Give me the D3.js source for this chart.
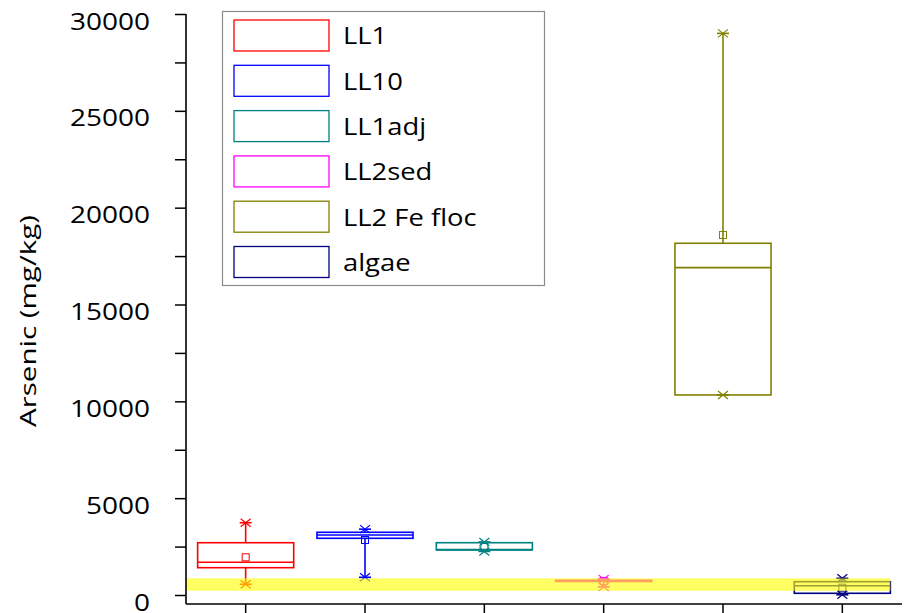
<!DOCTYPE html>
<html>
<head>
<meta charset="utf-8">
<script src="https://cdn.jsdelivr.net/npm/d3@7"></script>
<style>
  html, body { margin: 0; padding: 0; background: #fff; }
  svg { display: block; }
  text { font-family: "Open Sans", "DejaVu Sans", sans-serif; fill: #000; }
</style>
</head>
<body>
<svg id="chart" width="906" height="613"></svg>
<script>
// Sample groups and their colours
const categories = ["LL1", "LL10", "LL1adj", "LL2sed", "LL2 Fe floc", "algae"];
const colors = ["#ff0000", "#0000ff", "#008080", "#ff00ff", "#808000", "#000080"];

// Box statistics, arsenic in mg/kg
const minVals    = [553,  914,  2250, 420,  10328, 10];
const q1Vals     = [1410, 2928, 2324, 700,  10328, 88];
const medianVals = [1689, 3100, 2345, 730,  16903, 480];
const q3Vals     = [2700, 3238, 2700, 760,  18162, 687];
const maxVals    = [3733, 3400, 2740, 820,  29000, 862];
const meanVals   = [1947, 2840, 2480, 720,  18590, 377];

// Highlighted concentration range (mg/kg)
const highlightRange = [220, 860];

// Axis ticks
const yTicks = d3.range(0, 30001, 2500);
const yLabelTicks = [0, 5000, 10000, 15000, 20000, 25000, 30000];

const svg = d3.select("#chart");
const textScale = 1.19;

const x = d3.scaleBand().domain(categories).range([186, 902]).padding(0);
const y = d3.scaleLinear().domain([0, 30000]).range([595, 14]);
const boxW = x.bandwidth() * 0.805;
const color = d3.scaleOrdinal().domain(categories).range(colors);

const data = categories.map((c, i) => ({
  name: c, min: minVals[i], q1: q1Vals[i], median: medianVals[i],
  q3: q3Vals[i], max: maxVals[i], mean: meanVals[i]
}));

// Boxes
const boxes = svg.append("g").attr("class", "boxes");
const g = boxes.selectAll("g.box").data(data).join("g")
  .attr("class", "box")
  .attr("transform", d => `translate(${x(d.name) + x.bandwidth() / 2},0)`)
  .attr("stroke", d => color(d.name))
  .attr("fill", "none")
  .attr("stroke-width", 1.6);

// whiskers
g.filter(d => d.max > d.q3).append("line")
  .attr("x1", 0).attr("x2", 0)
  .attr("y1", d => y(d.q3)).attr("y2", d => y(d.max));
g.filter(d => d.min < d.q1).append("line")
  .attr("x1", 0).attr("x2", 0)
  .attr("y1", d => y(d.q1)).attr("y2", d => y(d.min));
// whisker caps
g.append("line").attr("x1", -6).attr("x2", 6)
  .attr("y1", d => y(d.max)).attr("y2", d => y(d.max));
g.append("line").attr("x1", -6).attr("x2", 6)
  .attr("y1", d => y(d.min)).attr("y2", d => y(d.min));

// box and median
g.append("rect")
  .attr("x", -boxW / 2).attr("width", boxW)
  .attr("y", d => y(d.q3))
  .attr("height", d => Math.max(1, y(d.q1) - y(d.q3)));
g.append("line")
  .attr("x1", -boxW / 2).attr("x2", boxW / 2)
  .attr("y1", d => y(d.median)).attr("y2", d => y(d.median));

// mean marker
g.append("rect")
  .attr("x", -3.5).attr("width", 7)
  .attr("y", d => y(d.mean) - 3.5).attr("height", 7)
  .attr("stroke-width", 1);

// min / max cross markers
const cross = (sel, key) => sel.append("path")
  .attr("stroke-width", 1.2)
  .attr("d", d => {
    const cy = y(d[key]);
    return `M-5,${cy - 4}L5,${cy + 4}M-5,${cy + 4}L5,${cy - 4}`;
  });
cross(g, "max");
cross(g, "min");

// Highlight band, drawn translucent over the boxes
const lastCat = categories[categories.length - 1];
svg.append("rect")
  .attr("x", x.range()[0])
  .attr("width", x(lastCat) + x.bandwidth() / 2 + boxW / 2 - x.range()[0])
  .attr("y", y(highlightRange[1]))
  .attr("height", y(highlightRange[0]) - y(highlightRange[1]))
  .attr("fill", "#ffff00")
  .attr("fill-opacity", 0.62);

// Y axis
const yAxis = svg.append("g")
  .attr("transform", "translate(186,0)")
  .call(d3.axisLeft(y).tickValues(yTicks).tickSize(11).tickSizeOuter(0)
    .tickFormat(v => yLabelTicks.includes(v) ? String(v) : ""));
yAxis.select(".domain").remove();
yAxis.selectAll(".tick line").attr("stroke", "#000").attr("stroke-width", 1.5);
yAxis.selectAll(".tick text")
  .attr("font-size", 23.5)
  .attr("font-family", "Open Sans")
  .attr("text-anchor", "end")
  .attr("dy", null)
  .attr("y", 15)
  .attr("x", -36 / textScale)
  .attr("transform", `scale(${textScale},1)`);

// X axis (ticks only)
const xAxisY = 604;
const xAxis = svg.append("g")
  .attr("transform", `translate(0,${xAxisY})`)
  .call(d3.axisBottom(x).tickSize(12).tickSizeOuter(0).tickFormat(""));
xAxis.select(".domain").remove();
xAxis.selectAll(".tick line").attr("stroke", "#000").attr("stroke-width", 1.5);

// Axis lines
svg.append("line")
  .attr("x1", 186).attr("x2", 186).attr("y1", y(30000)).attr("y2", xAxisY)
  .attr("stroke", "#000").attr("stroke-width", 1.6);
svg.append("line")
  .attr("x1", 186).attr("x2", x.range()[1]).attr("y1", xAxisY).attr("y2", xAxisY)
  .attr("stroke", "#000").attr("stroke-width", 1.6);

// Y axis title
svg.append("text")
  .attr("transform", "translate(36,321) rotate(-90)")
  .attr("text-anchor", "middle")
  .attr("font-size", 22)
  .attr("textLength", 212)
  .attr("lengthAdjust", "spacingAndGlyphs")
  .text("Arsenic (mg/kg)");

// Legend
const legend = svg.append("g").attr("class", "legend");
legend.append("rect")
  .attr("x", 222.5).attr("y", 11.5).attr("width", 322).attr("height", 274)
  .attr("fill", "#fff").attr("stroke", "#8a8a8a").attr("stroke-width", 1.2);
const item = legend.selectAll("g.item").data(categories).join("g")
  .attr("class", "item")
  .attr("transform", (d, i) => `translate(0,${20 + i * 45.3})`);
item.append("rect")
  .attr("x", 234).attr("y", 0).attr("width", 95).attr("height", 31)
  .attr("fill", "none").attr("stroke", d => color(d)).attr("stroke-width", 1.3);
item.append("text")
  .attr("transform", `translate(343,24.3) scale(${textScale},1)`)
  .attr("font-size", 23)
  .text(d => d);
</script>
</body>
</html>
